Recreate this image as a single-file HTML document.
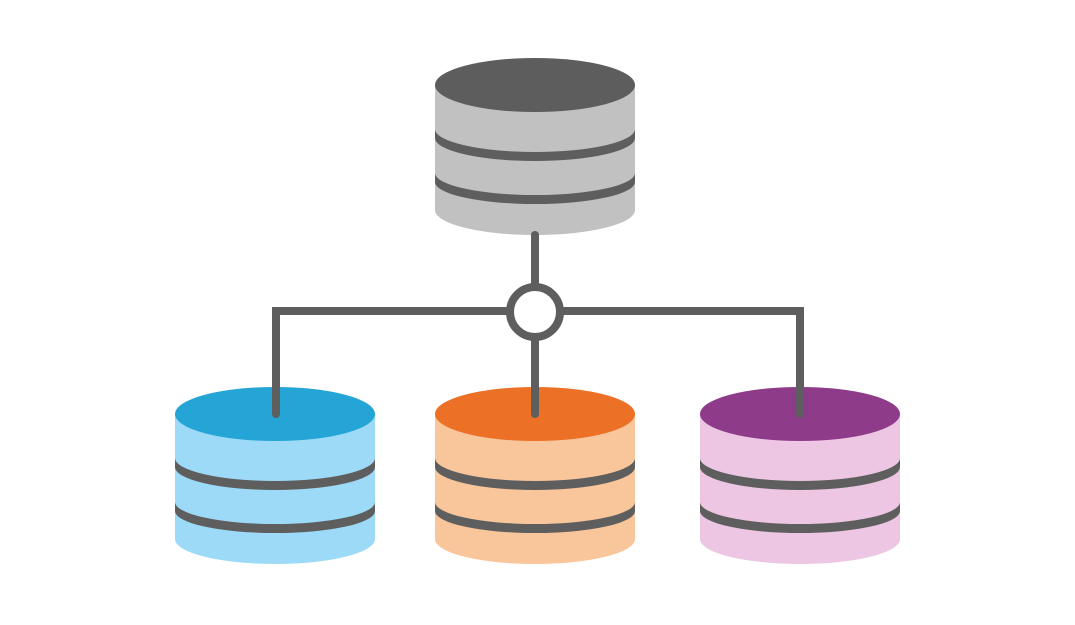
<!DOCTYPE html>
<html><head><style>body{margin:0;background:#fff}svg{display:block}</style></head><body>
<svg width="1075" height="625" viewBox="0 0 1075 625" xmlns="http://www.w3.org/2000/svg">
<defs>
<g id="cyl">
<path d="M0 0 V125 A100 25 0 0 0 200 125 V0 Z" fill="var(--b)"/>
<ellipse cx="100" cy="0" rx="100" ry="27" fill="var(--t)"/>
<path d="M0 44 A100 23 0 0 0 200 44 V53 A100 23 0 0 1 0 53 Z" fill="#5e5e5e"/>
<path d="M0 88 A100 22 0 0 0 200 88 V97 A100 22 0 0 1 0 97 Z" fill="#5e5e5e"/>
</g>
</defs>
<g transform="translate(435,85)" style="--b:#c1c1c1;--t:#5d5d5d"><use href="#cyl"/></g>
<g transform="translate(175,414)" style="--b:#9ddaf7;--t:#24a5d6"><use href="#cyl"/></g>
<g transform="translate(435,414)" style="--b:#f9c59b;--t:#ec7127"><use href="#cyl"/></g>
<g transform="translate(700,414)" style="--b:#ecc6e2;--t:#8e3b8a"><use href="#cyl"/></g>
<g fill="none" stroke="#5e5e5e" stroke-width="8" stroke-linecap="round" stroke-linejoin="miter">
<path d="M535 235 V288"/>
<path d="M535 336 V414"/>
<path d="M276 414 V311 H511"/>
<path d="M800 414 V311 H559"/>
<circle cx="535" cy="312" r="25" fill="#fff"/>
</g>
</svg>
</body></html>
